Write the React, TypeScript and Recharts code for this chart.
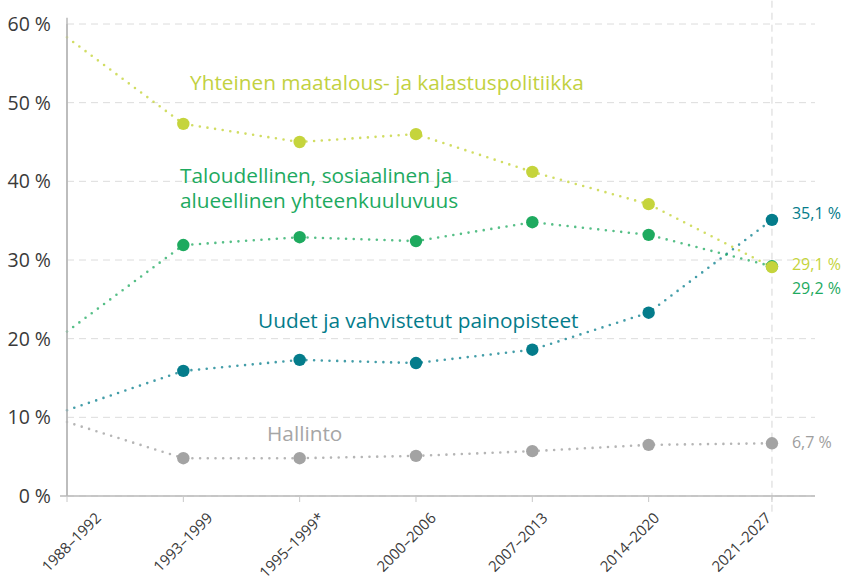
import React from "react";
import {
  LineChart,
  Line,
  XAxis,
  YAxis,
  CartesianGrid,
  ReferenceLine,
  LabelList,
} from "recharts";

const periods = [
  "1988–1992",
  "1993–1999",
  "1995–1999*",
  "2000–2006",
  "2007–2013",
  "2014–2020",
  "2021–2027",
];
const periodPos = [0, 1, 2, 3, 4, 5, 6.06];
const capShare = [58.3, 47.3, 45.0, 46.0, 41.2, 37.1, 29.1];
const cohesionShare = [20.9, 31.9, 32.9, 32.4, 34.8, 33.2, 29.2];
const newPrioritiesShare = [10.9, 15.9, 17.3, 16.9, 18.6, 23.3, 35.1];
const adminShare = [9.4, 4.8, 4.8, 5.1, 5.7, 6.5, 6.7];
const yTicks = [0, 10, 20, 30, 40, 50, 60];

const seriesNames = {
  cap: "Yhteinen maatalous- ja kalastuspolitiikka",
  coh1: "Taloudellinen, sosiaalinen ja",
  coh2: "alueellinen yhteenkuuluvuus",
  nw: "Uudet ja vahvistetut painopisteet",
  adm: "Hallinto",
};

const data = periods.map((p, i) => ({
  period: p,
  pos: periodPos[i],
  cap: capShare[i],
  coh: cohesionShare[i],
  nw: newPrioritiesShare[i],
  adm: adminShare[i],
}));

const COLORS = {
  cap: "#c5d43c",
  coh: "#1eaa5f",
  nw: "#047c8b",
  adm: "#a3a3a3",
};

const AXIS = "#b8b8b8";
const FONT = "'Open Sans', 'DejaVu Sans', sans-serif";

const makeDot = (color: string) => (props: any) => {
  const { cx, cy, index } = props;
  if (index === 0 || cx == null || cy == null) return <g key={`d-${index}`} />;
  return <circle key={`d-${index}`} cx={cx} cy={cy} r={6.2} fill={color} />;
};

const makeEndLabel = (color: string, dy: number) => (props: any) => {
  const { x, y, value, index } = props;
  if (index !== periods.length - 1) return null;
  const txt = String(value).replace(".", ",") + " %";
  return (
    <text
      x={Number(x) + 20}
      y={Number(y) + dy}
      fill={color}
      fontSize={16}
      fontFamily={FONT}
      dominantBaseline="central"
    >
      {txt}
    </text>
  );
};

const EmptyTick = () => <g />;

const PeriodTick = (props: any) => {
  const { x, y, payload } = props;
  return (
    <g transform={`translate(${x},${y + 13})`}>
      <text
        x={0}
        y={0}
        textAnchor="end"
        transform="rotate(-45)"
        fill="#3a3a3a"
        fontSize={15}
        fontFamily={FONT}
      >
        {payload.value}
      </text>
    </g>
  );
};

const lineCommon = {
  type: "linear" as const,
  strokeWidth: 2.6,
  strokeDasharray: "0 7.7",
  strokeLinecap: "round" as const,
  isAnimationActive: false,
  activeDot: false as const,
};

const LABEL_SIZE = 20.8;

export default function App() {
  return (
    <div style={{ width: 843, height: 582 }}>
      <style>{"body{margin:0}"}</style>
      <LineChart
        width={843}
        height={582}
        data={data}
        margin={{ top: 24, right: 28, bottom: 0, left: 0 }}
      >
        <CartesianGrid
          vertical={false}
          stroke="#dcdcdc"
          strokeDasharray="7 5"
        />
        <XAxis
          type="number"
          dataKey="pos"
          domain={[0, 6.43]}
          ticks={periodPos}
          interval={0}
          height={10}
          axisLine={{ stroke: AXIS, strokeWidth: 1.5 }}
          tickLine={{ stroke: "#c8c8c8" }}
          tickSize={6}
          tick={<EmptyTick />}
        />
        <XAxis
          xAxisId="periodLabels"
          type="category"
          dataKey="period"
          scale="point"
          padding={{ left: 35, right: 43 }}
          interval={0}
          height={76}
          axisLine={false}
          tickLine={false}
          tickSize={0}
          tickMargin={0}
          tick={<PeriodTick />}
        />
        <YAxis
          domain={[0, 60]}
          ticks={yTicks}
          width={67}
          axisLine={{ stroke: AXIS, strokeWidth: 1.5 }}
          tickLine={false}
          tickFormatter={(v: number) => `${v} %`}
          tick={{ fill: "#3a3a3a", fontSize: 19.5, fontFamily: FONT }}
          tickMargin={10}
        />
        <ReferenceLine
          segment={[
            { x: 6.06, y: -2 },
            { x: 6.06, y: 63 },
          ]}
          ifOverflow="visible"
          stroke="#d6d6d6"
          strokeDasharray="7 5"
        />
        <ReferenceLine
          segment={[
            { x: 0, y: 0 },
            { x: 0, y: 60.8 },
          ]}
          ifOverflow="visible"
          stroke={AXIS}
          strokeWidth={1.5}
        />
        <ReferenceLine
          segment={[
            { x: -0.06, y: 0 },
            { x: 0, y: 0 },
          ]}
          ifOverflow="visible"
          stroke={AXIS}
          strokeWidth={1.5}
        />
        <Line
          {...lineCommon}
          dataKey="adm"
          stroke={COLORS.adm}
          strokeOpacity={0.8}
          dot={makeDot(COLORS.adm)}
        >
          <LabelList dataKey="adm" content={makeEndLabel("#9e9e9e", -1)} />
        </Line>
        <Line
          {...lineCommon}
          dataKey="nw"
          stroke={COLORS.nw}
          strokeOpacity={0.75}
          dot={makeDot(COLORS.nw)}
        >
          <LabelList dataKey="nw" content={makeEndLabel(COLORS.nw, -7)} />
        </Line>
        <Line
          {...lineCommon}
          dataKey="coh"
          stroke={COLORS.coh}
          strokeOpacity={0.75}
          dot={makeDot(COLORS.coh)}
        >
          <LabelList dataKey="coh" content={makeEndLabel(COLORS.coh, 22)} />
        </Line>
        <Line
          {...lineCommon}
          dataKey="cap"
          stroke={COLORS.cap}
          strokeOpacity={0.8}
          dot={makeDot(COLORS.cap)}
        >
          <LabelList dataKey="cap" content={makeEndLabel(COLORS.cap, -3)} />
        </Line>
        <text x={190} y={90} fill="#c2d13f" fontSize={LABEL_SIZE} fontFamily={FONT}>
          {seriesNames.cap}
        </text>
        <text x={180} y={183} fill={COLORS.coh} fontSize={LABEL_SIZE} fontFamily={FONT}>
          {seriesNames.coh1}
        </text>
        <text x={180} y={208} fill={COLORS.coh} fontSize={LABEL_SIZE} fontFamily={FONT}>
          {seriesNames.coh2}
        </text>
        <text x={258} y={328} fill={COLORS.nw} fontSize={LABEL_SIZE} fontFamily={FONT}>
          {seriesNames.nw}
        </text>
        <text x={267} y={441} fill="#a6a6a6" fontSize={LABEL_SIZE} fontFamily={FONT}>
          {seriesNames.adm}
        </text>
      </LineChart>
    </div>
  );
}
